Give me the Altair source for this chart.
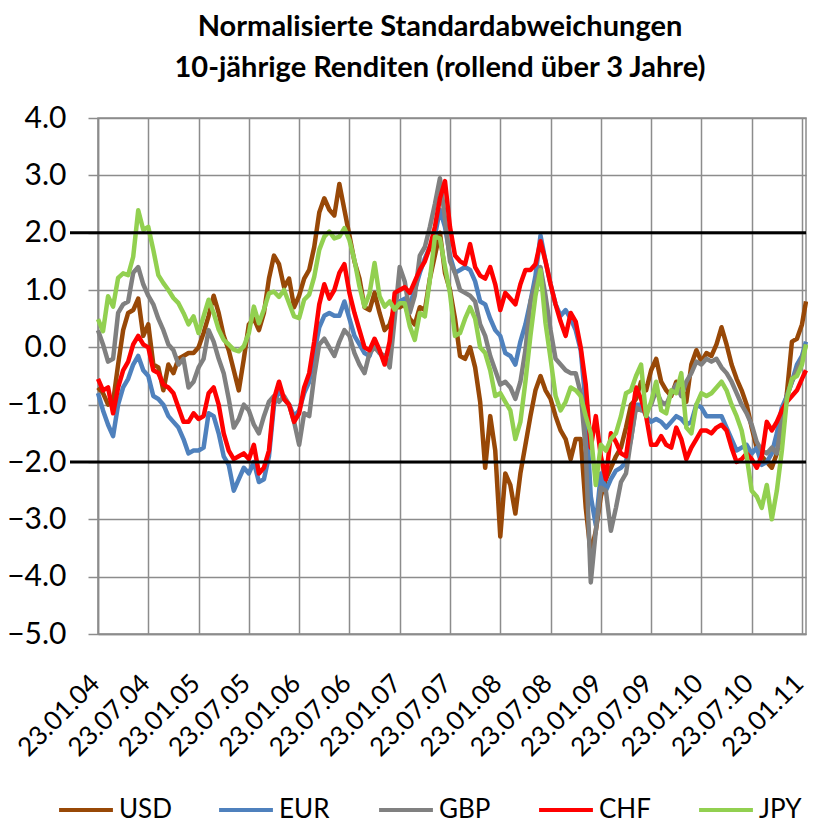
import altair as alt
import pandas as pd

TITLE = ["Normalisierte Standardabweichungen", "10-jährige Renditen (rollend über 3 Jahre)"]
TICK_LABELS = ["23.01.04", "23.07.04", "23.01.05", "23.07.05", "23.01.06", "23.07.06",
               "23.01.07", "23.07.07", "23.01.08", "23.07.08", "23.01.09", "23.07.09",
               "23.01.10", "23.07.10", "23.01.11"]
SERIES = ["USD", "EUR", "GBP", "CHF", "JPY"]
COLORS = ["#984807", "#4F81BD", "#808080", "#FF0000", "#92D050"]
LEVELS = [2.0, -2.0]

# sample positions, in half-years after 23.01.04 (one tick label per half-year)
T = [i / 10 for i in range(141)] + [14.08]

USD = [-0.7, -0.8, -1.0, -0.95, -0.3, 0.3, 0.6, 0.65, 0.85, 0.2,
       0.4, -0.3, -0.35, -0.75, -0.3, -0.45, -0.2, -0.15, -0.1, -0.1,
       0.0, 0.25, 0.55, 0.9, 0.6, 0.2, -0.05, -0.4, -0.75, -0.2,
       0.4, 0.5, 0.3, 0.6, 1.2, 1.6, 1.45, 1.05, 1.2, 0.7,
       0.9, 1.2, 1.35, 1.75, 2.35, 2.6, 2.4, 2.3, 2.85, 2.4,
       1.95, 1.5, 1.2, 0.7, 0.65, 0.95, 0.6, 0.3, 0.4, 0.7,
       0.7, 0.75, 0.5, 0.4, 0.7, 0.65, 1.2, 1.6, 2.0, 1.3,
       1.0, 0.5, -0.15, -0.2, 0.0, -0.35, -0.95, -2.1, -1.2, -1.8,
       -3.3, -2.2, -2.4, -2.9, -2.2, -1.7, -1.2, -0.75, -0.5, -0.75,
       -0.9, -1.2, -1.45, -1.6, -1.95, -1.6, -1.6, -2.8, -3.6, -3.2,
       -2.6, -2.3, -2.1, -1.9, -1.75, -1.4, -1.0, -0.9, -0.6, -0.75,
       -0.4, -0.2, -0.6, -0.75, -0.85, -0.6, -0.7, -0.95, -0.3, -0.05,
       -0.25, -0.1, -0.15, 0.05, 0.35, 0.05, -0.3, -0.55, -0.75, -1.0,
       -1.4, -1.75, -1.9, -2.0, -2.1, -1.85, -1.4, -0.8, 0.1, 0.15,
       0.4, 0.8]

EUR = [-0.8, -1.1, -1.35, -1.55, -1.0, -0.7, -0.55, -0.3, -0.15, -0.4,
       -0.5, -0.85, -0.9, -1.0, -1.2, -1.3, -1.4, -1.6, -1.85, -1.8,
       -1.8, -1.75, -1.15, -1.2, -1.5, -1.9, -2.05, -2.5, -2.3, -2.1,
       -2.2, -2.0, -2.35, -2.3, -1.9, -1.0, -0.75, -0.9, -1.0, -1.2,
       -1.1, -0.8, -0.6, -0.1, 0.35, 0.55, 0.6, 0.55, 0.55, 0.8,
       0.5, 0.2, 0.05, -0.1, -0.15, 0.1, -0.1, -0.2, 0.0, 0.7,
       0.8, 0.85, 0.75, 1.0, 1.3, 1.55, 1.75, 1.95, 2.4, 2.1,
       1.6, 1.3, 1.35, 1.4, 1.35, 1.15, 0.8, 0.75, 0.5, 0.3,
       0.2, -0.1, -0.15, -0.3, 0.1, 0.4, 0.8, 1.25, 1.95, 1.5,
       1.1, 0.75, 0.55, 0.65, 0.5, 0.3, -0.05, -1.0, -2.6, -3.1,
       -2.2, -2.5, -2.3, -2.15, -2.1, -2.0, -1.6, -1.0, -1.0, -1.2,
       -1.3, -1.25, -1.3, -1.4, -1.3, -1.2, -1.25, -1.35, -1.3, -1.0,
       -1.05, -1.2, -1.2, -1.2, -1.2, -1.4, -1.6, -1.8, -1.75, -1.7,
       -1.85, -1.75, -2.05, -2.0, -1.85, -1.5, -1.05, -0.85, -0.6, -0.3,
       -0.15, 0.1]

GBP = [0.3, 0.05, -0.25, -0.2, 0.6, 0.75, 0.8, 1.3, 1.4, 1.1,
       0.9, 0.75, 0.5, 0.3, 0.05, -0.05, -0.3, -0.2, -0.7, -0.6,
       -0.35, -0.2, 0.3, 0.1, -0.2, -0.45, -0.9, -1.4, -1.25, -1.0,
       -1.1, -1.35, -1.5, -1.2, -0.95, -0.85, -0.95, -0.85, -1.0, -1.3,
       -1.7, -1.15, -1.2, -0.5, 0.05, 0.15, 0.0, -0.15, 0.1, 0.3,
       0.2, -0.1, -0.3, -0.45, -0.1, 0.0, -0.1, -0.15, -0.35, 0.5,
       1.4, 1.15, 0.6, 0.9, 1.6, 1.75, 2.1, 2.5, 2.95, 2.25,
       1.5, 1.3, 1.0, 0.95, 0.9, 0.8, 0.4, 0.2, -0.15, -0.4,
       -0.65, -0.6, -0.7, -0.9, -0.6, -0.05, 0.8, 1.1, 1.4, 0.9,
       0.3, -0.2, -0.3, -0.4, -0.45, -0.45, -0.8, -1.8, -4.1, -3.2,
       -2.45, -2.5, -3.2, -2.8, -2.35, -2.2, -1.6, -1.05, -1.1, -1.1,
       -1.0, -0.75, -0.95, -1.0, -0.8, -0.65, -0.85, -0.6, -0.45, -0.25,
       -0.3, -0.2, -0.25, -0.2, -0.35, -0.45, -0.6, -0.8, -1.0, -1.15,
       -1.35, -1.65, -1.8, -1.85, -1.75, -1.85, -1.25, -0.85, -0.6, -0.4,
       -0.2, 0.05]

CHF = [-0.55, -0.75, -0.7, -1.15, -0.7, -0.4, -0.25, 0.05, 0.2, 0.05,
       0.0, -0.4, -0.45, -0.65, -0.7, -0.8, -1.05, -1.3, -1.3, -1.15,
       -1.25, -1.2, -0.8, -0.7, -1.0, -1.5, -1.8, -1.95, -1.9, -1.85,
       -1.95, -1.7, -2.2, -2.1, -1.8, -0.9, -0.6, -0.9, -1.0, -1.3,
       -1.15, -0.7, -0.45, 0.1, 0.75, 1.1, 0.85, 1.0, 1.3, 1.45,
       0.95, 0.6, 0.3, 0.0, -0.05, 0.15, -0.05, -0.3, 0.1, 0.95,
       1.0, 1.05, 0.95, 1.15, 1.35, 1.5, 1.75, 2.1, 2.6, 2.9,
       2.1, 1.6, 1.5, 1.45, 1.8, 1.4, 1.25, 1.2, 1.4, 1.1,
       0.65, 0.95, 0.85, 0.75, 1.1, 1.35, 1.35, 1.45, 1.85, 1.5,
       1.1, 0.75, 0.45, 0.2, 0.6, 0.45, 0.0, -0.65, -1.75, -1.2,
       -1.9, -2.3, -1.5, -1.65, -1.85, -1.9, -1.3, -0.7, -0.9, -1.2,
       -1.7, -1.7, -1.55, -1.7, -1.75, -1.4, -1.6, -1.95, -1.75, -1.6,
       -1.45, -1.45, -1.5, -1.4, -1.35, -1.45, -1.75, -2.0, -1.95, -1.85,
       -1.95, -2.1, -1.9, -1.3, -1.45, -1.3, -1.1, -0.95, -0.85, -0.75,
       -0.55, -0.4]

JPY = [0.49, 0.28, 0.89, 0.71, 1.21, 1.29, 1.26, 1.58, 2.39, 2.05,
       2.1, 1.7, 1.26, 1.12, 1.0, 0.86, 0.77, 0.6, 0.4, 0.54,
       0.25, 0.54, 0.83, 0.6, 0.31, 0.13, 0.05, -0.04, -0.07, 0.02,
       0.25, 0.71, 0.42, 0.66, 0.94, 0.97, 0.88, 1.0, 0.77, 0.54,
       0.51, 0.83, 0.92, 1.23, 1.7, 1.93, 2.02, 1.9, 1.93, 2.08,
       1.87, 1.52, 1.06, 0.71, 0.94, 1.47, 0.89, 0.71, 0.8, 0.66,
       0.77, 0.77, 0.37, 0.13, 0.6, 0.54, 1.18, 1.93, 1.9, 1.41,
       0.94, 0.2, 0.25, 0.5, 0.7, 0.5, 0.0, -0.1, -0.4, -0.85,
       -0.8, -0.95, -1.1, -1.6, -1.3, -0.6, 0.2, 0.9, 1.35, 0.42,
       -0.2, -0.85, -1.1, -0.95, -0.7, -0.75, -0.85, -1.2, -1.5, -2.4,
       -1.7, -1.8, -1.6, -1.5, -1.2, -0.8, -0.75, -0.5, -0.3, -1.2,
       -0.95, -0.6, -1.1, -1.15, -0.75, -0.8, -0.45, -1.4, -1.5, -1.0,
       -0.8, -0.85, -0.8, -0.7, -0.6, -0.75, -1.0, -1.2, -1.45, -1.9,
       -2.5, -2.6, -2.8, -2.4, -3.0, -2.5, -1.8, -0.9, -0.55, -0.5,
       -0.3, 0.05]

VALUES = {"USD": USD, "EUR": EUR, "GBP": GBP, "CHF": CHF, "JPY": JPY}

rows = []
for s in SERIES:
    for t, v in zip(T, VALUES[s]):
        rows.append({"t": t, "v": v, "series": s})
df = pd.DataFrame(rows)
lv = pd.DataFrame({"lvl": LEVELS})

FONT = "Lato"
GRID = "#8C8C8C"
label_js = "[" + ",".join("'" + s + "'" for s in TICK_LABELS) + "][datum.value]"

W, H = 708, 516

lines = alt.Chart(df).mark_line(strokeWidth=4.5, strokeJoin="round").encode(
    x=alt.X("t:Q",
            scale=alt.Scale(domain=[0, 14.08], nice=False, zero=False),
            axis=alt.Axis(values=list(range(15)), labelExpr=label_js, labelAngle=315,
                          labelAlign="right", labelBaseline="middle", labelPadding=45,
                          labelOffset=-3,
                          ticks=False, grid=True, gridColor=GRID, gridWidth=1.5,
                          domainColor=GRID, domainWidth=1.5, labelFont=FONT,
                          labelFontSize=26, labelColor="black", title=None,
                          labelOverlap=False, labelBound=False)),
    y=alt.Y("v:Q",
            scale=alt.Scale(domain=[-5, 4], nice=False, zero=False),
            axis=alt.Axis(values=list(range(-5, 5)), format=".1f", tickSize=10,
                          tickColor=GRID, tickWidth=1.5, grid=True, gridColor=GRID,
                          gridWidth=1.5, domainColor=GRID, domainWidth=1.5,
                          labelFont=FONT, labelFontSize=30, labelColor="black",
                          labelPadding=22, title=None, labelOverlap=False)),
    color=alt.Color("series:N",
                    scale=alt.Scale(domain=SERIES, range=COLORS),
                    sort=SERIES,
                    legend=alt.Legend(title=None, orient="none", legendX=-41, legendY=663,
                                      direction="horizontal", columns=5,
                                      symbolType="stroke", symbolSize=2900,
                                      symbolStrokeWidth=4, labelFont=FONT,
                                      labelFontSize=26, labelColor="black",
                                      labelOffset=4, columnPadding=38,
                                      gridAlign="all")),
)

rules = alt.Chart(lv).mark_rule(color="black", strokeWidth=3).encode(
    y="lvl:Q", x=alt.value(-28), x2=alt.value(W)
)

chart = alt.layer(lines, rules).properties(
    width=W, height=H,
    title=alt.TitleParams(TITLE, anchor="middle", fontSize=29, fontWeight="bold",
                          font=FONT, color="black", lineHeight=41, offset=20, dx=-12),
    padding={"left": 90, "top": 110, "right": 2, "bottom": 190},
    autosize="none",
).configure_view(stroke=GRID, strokeWidth=1.5)

chart.save("out.html", embed_options={"renderer": "svg", "actions": False})
